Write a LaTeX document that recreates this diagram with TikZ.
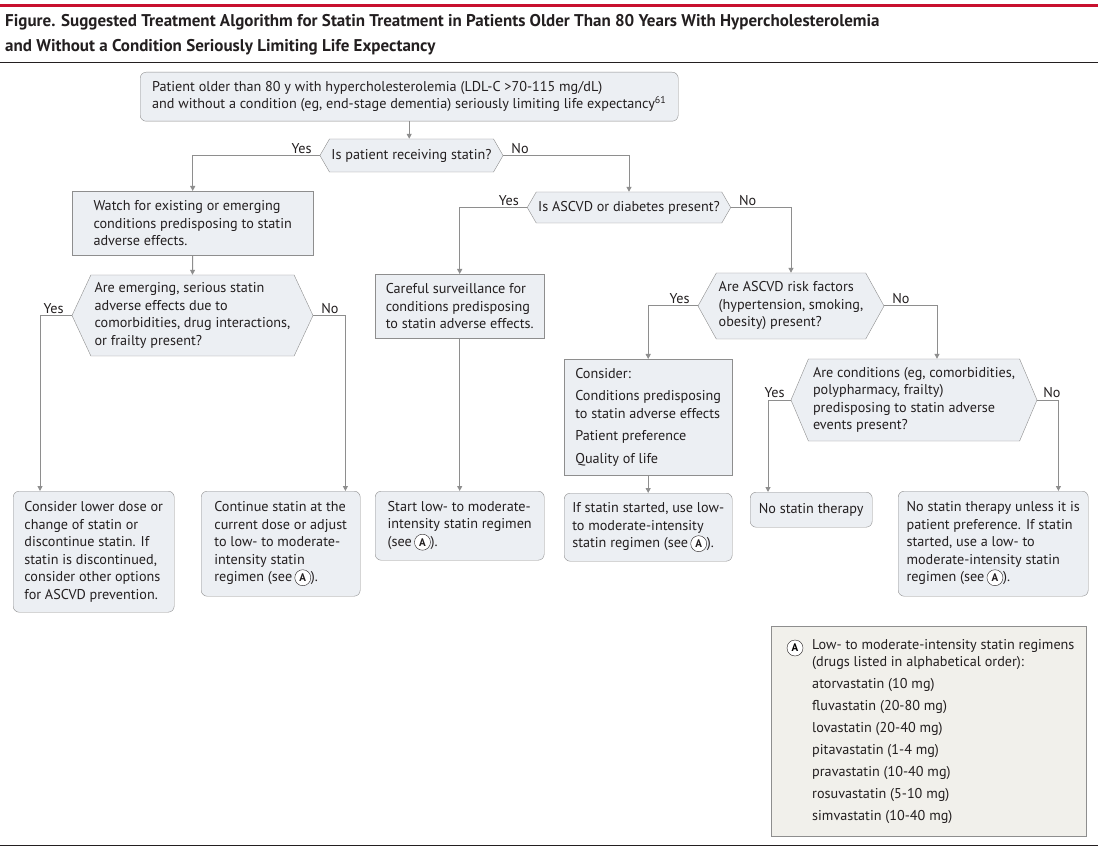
\documentclass[tikz,border=0pt]{standalone}
\usepackage{fontspec}
\setmainfont{PT Sans}
\usepackage{tikz}
\usetikzlibrary{arrows.meta,positioning,shapes.symbols}
\definecolor{jamared}{HTML}{C8102E}
\definecolor{boxfill}{HTML}{ECEFF3}
\definecolor{boxline}{HTML}{8E8E8E}
\definecolor{legfill}{HTML}{F1F0EB}
\definecolor{txt}{HTML}{231F20}
\tikzset{
  body/.style={font=\fontsize{14.2}{17.5}\selectfont,text=txt},
  bx/.style={body,rectangle,draw=boxline,fill=boxfill,align=left,inner xsep=6pt,inner ysep=3pt,anchor=north west},
  rbx/.style={bx,rounded corners=6pt},
  hx/.style={body,shape=signal,signal to=west and east,draw=boxline,fill=boxfill,align=left,inner sep=2pt},
  yn/.style={body,inner sep=0pt},
  circA/.style={circle,draw=txt,fill=white,inner sep=0pt,minimum size=16pt,font=\fontsize{11}{11}\selectfont\bfseries},
}
\newcommand{\regA}{\tikz[baseline=(ca.base)]\node[circA] (ca) {A};}

\begin{document}
\begin{tikzpicture}[x=1pt,y=-1pt,
  ttl/.style={font=\fontsize{17}{20}\selectfont\bfseries,text=txt,anchor=base west,inner sep=0pt},
  ar/.style={draw=boxline,line width=1pt,-{Triangle[length=5pt,width=5pt]}}]
\useasboundingbox[fill=white] (0,0) rectangle (1098,850);
% header and rules
\draw[jamared,line width=3pt] (0,6) -- (1098,6);
\node[ttl] (t1) at (5,27) {Figure. Suggested Treatment Algorithm for Statin Treatment in Patients Older Than 80 Years With Hypercholesterolemia};
\node[ttl] (t2) at (5,52) {and Without a Condition Seriously Limiting Life Expectancy};
\draw[txt,line width=1pt] (0,63) -- (1098,63);
\draw[txt,line width=1pt] (0,845) -- (1098,845);

% top of the algorithm
\node[rbx,minimum width=538pt,minimum height=49pt] (start) at (140,72) {Patient older than 80 y with hypercholesterolemia (LDL-C >70-115 mg/dL)\\and without a condition (eg, end-stage dementia) seriously limiting life expectancy\textsuperscript{61}};
\node[hx,signal pointer angle=120,minimum width=181pt,minimum height=33pt] (q1) at (411.5,155.5) {Is patient receiving statin?};

% receiving statin
\node[bx,minimum width=241pt,minimum height=64pt] (watch) at (72,191) {Watch for existing or emerging\\conditions predisposing to statin\\adverse effects.};
\node[hx,signal pointer angle=130,minimum width=241pt,minimum height=81pt] (q2) at (192.5,315.5) {Are emerging, serious statin\\adverse effects due to\\comorbidities, drug interactions,\\or frailty present?};
\node[rbx,minimum width=161pt,minimum height=121pt] (lower) at (13,491) {Consider lower dose or\\change of statin or\\discontinue statin. If\\statin is discontinued,\\consider other options\\for ASCVD prevention.};
\node[rbx,minimum width=159pt,minimum height=105pt] (cont) at (201,491) {Continue statin at the\\current dose or adjust\\to low- to moderate-\\intensity statin\\regimen (see\,\regA).};

% not receiving statin
\node[hx,signal pointer angle=120,minimum width=202pt,minimum height=31pt] (q3) at (629,207.5) {Is ASCVD or diabetes present?};
\node[bx,minimum width=169pt,minimum height=64pt] (careful) at (375,274) {Careful surveillance for\\conditions predisposing\\to statin adverse effects.};
\node[rbx,minimum width=169pt,minimum height=69pt] (startlow) at (375,491) {Start low- to moderate-\\intensity statin regimen\\(see\,\regA).};
\node[hx,signal pointer angle=122,minimum width=186pt,minimum height=66pt] (q4) at (791,306) {Are ASCVD risk factors\\(hypertension, smoking,\\obesity) present?};
\node[bx,minimum width=168pt,minimum height=116pt] (consider) at (564,359) {Consider:\\[5pt]Conditions predisposing\\to statin adverse effects\\[5pt]Patient preference\\[5pt]Quality of life};
\node[rbx,minimum width=168pt,minimum height=68pt] (ifstat) at (564,493) {If statin started, use low-\\to moderate-intensity\\statin regimen (see\,\regA).};
\node[hx,signal pointer angle=134,minimum width=246pt,minimum height=82pt] (q5) at (914,400) {Are conditions (eg, comorbidities,\\polypharmacy, frailty)\\predisposing to statin adverse\\events present?};
\node[rbx,minimum width=122pt,minimum height=35pt] (nostat) at (750,492) {No statin therapy};
\node[rbx,minimum width=190pt,minimum height=105pt] (unless) at (898,491) {No statin therapy unless it is\\patient preference. If statin\\started, use a low- to\\moderate-intensity statin\\regimen (see\,\regA).};

% yes / no labels
\node[yn,above left=2pt and 8pt of q1.west] (y1) {Yes};
\node[yn,above right=2pt and 8pt of q1.east] (n1) {No};
\node[yn,above left=2pt and 8pt of q2.west] (y2) {Yes};
\node[yn,above right=2pt and 8pt of q2.east] (n2) {No};
\node[yn,above left=2pt and 8pt of q3.west] (y3) {Yes};
\node[yn,above right=2pt and 8pt of q3.east] (n3) {No};
\node[yn,above left=2pt and 8pt of q4.west] (y4) {Yes};
\node[yn,above right=2pt and 8pt of q4.east] (n4) {No};
\node[yn,above left=2pt and 6pt of q5.west] (y5) {Yes};
\node[yn,above right=2pt and 6pt of q5.east] (n5) {No};

% connectors
\draw[ar] (start.south) -- (start.south |- q1.north);
\draw[ar] (q1.west) -| (watch.north);
\draw[ar] (q1.east) -| (q3.north);
\draw[ar] (watch.south) -- (q2.north);
\draw[ar] (q2.west) -| ([xshift=27pt]lower.north west);
\draw[ar] (q2.east) -| ([xshift=-15pt]cont.north east);
\draw[ar] (q3.west) -| (careful.north);
\draw[ar] (q3.east) -| (q4.north);
\draw[ar] (careful.south) -- (startlow.north);
\draw[ar] (q4.west) -| (consider.north);
\draw[ar] (q4.east) -| ([xshift=23pt]q5.north);
\draw[ar] (consider.south) -- (ifstat.north);
\draw[ar] (q5.west) -| ([xshift=18pt]nostat.north west);
\draw[ar] (q5.east) -| ([xshift=-30pt]unless.north east);

% legend
\node[bx,fill=legfill,minimum width=315pt,minimum height=210pt] (leg) at (771,626) {};
\node[circA] (legA) at (795,648) {A};
\node[body,align=left,anchor=north west,inner sep=0pt] (legtxt) at (812,639) {Low- to moderate-intensity statin regimens\\(drugs listed in alphabetical order):\\[4.5pt]atorvastatin (10 mg)\\[4.5pt]fluvastatin (20-80 mg)\\[4.5pt]lovastatin (20-40 mg)\\[4.5pt]pitavastatin (1-4 mg)\\[4.5pt]pravastatin (10-40 mg)\\[4.5pt]rosuvastatin (5-10 mg)\\[4.5pt]simvastatin (10-40 mg)};
\end{tikzpicture}
\end{document}
